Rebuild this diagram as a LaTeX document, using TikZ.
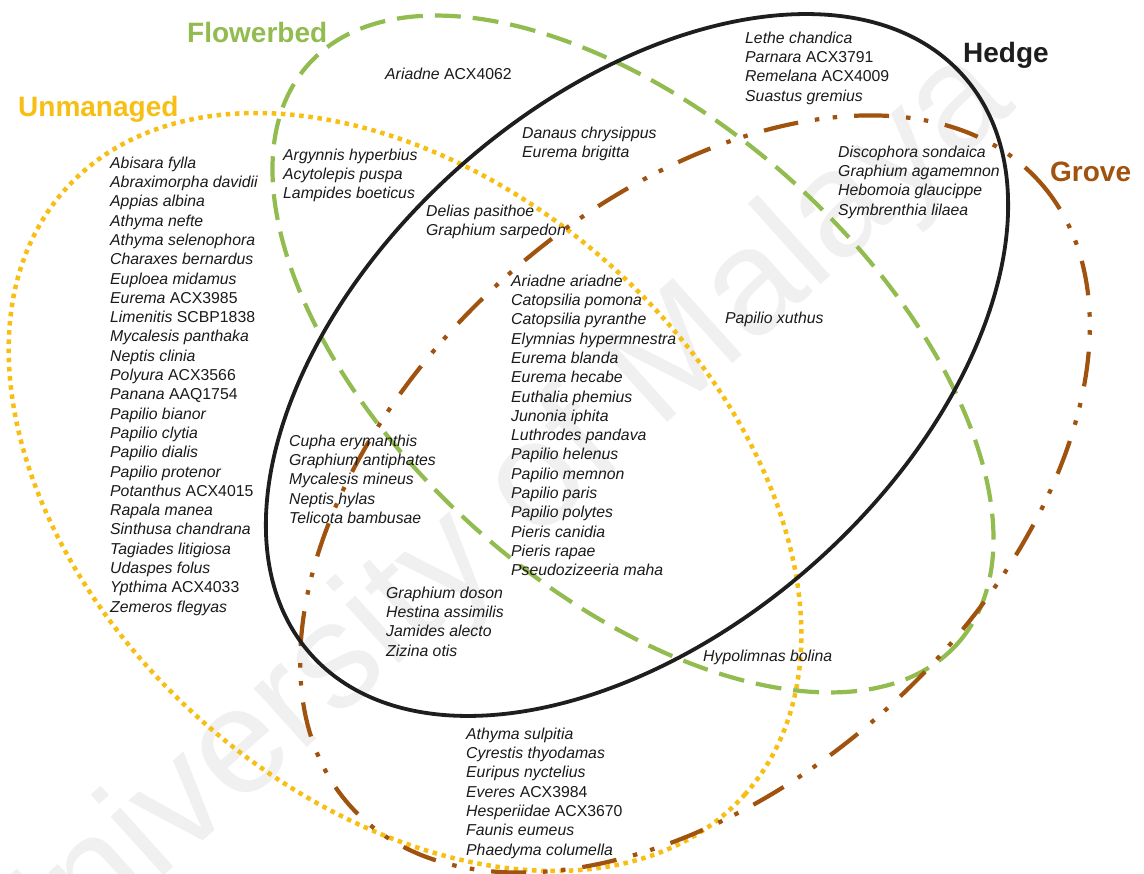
\documentclass[tikz,border=0pt]{standalone}
\usepackage{fontspec}
\setmainfont{Liberation Sans}
\definecolor{flowc}{HTML}{92BB50}
\definecolor{unmc}{HTML}{F7BF14}
\definecolor{grovec}{HTML}{A0520F}
\definecolor{hedgec}{HTML}{1E1E1E}
\definecolor{txt}{HTML}{1A1A1A}
\newcommand{\cd}[1]{\textup{#1}}
\newcommand{\fs}{\rule{0pt}{12pt}}
\begin{document}
\begin{tikzpicture}[x=1pt,y=-1pt,
 spp/.style={font=\fontsize{15.8}{19.3}\selectfont\itshape, text=txt, align=left, inner sep=0pt, anchor=north west},
 sp1/.style={font=\fontsize{15.8}{19.3}\selectfont\itshape, text=txt, inner sep=0pt, anchor=base west},
 setlbl/.style={font=\fontsize{28}{32}\selectfont\bfseries, inner sep=0pt, anchor=base west},
 hedgeln/.style={draw=hedgec, line width=3.8pt},
 flowln/.style={draw=flowc, line width=4.2pt, dash pattern=on 26pt off 12pt},
 unmln/.style={draw=unmc, line width=4.5pt, dash pattern=on 4.5pt off 4.7pt},
 groveln/.style={draw=grovec, line width=4.2pt, dash pattern=on 35pt off 17pt on 4.5pt off 13.5pt on 4.5pt off 17pt},
 wmark/.style={text=black!6, font=\fontsize{150}{150}\selectfont, inner sep=0pt}
]
\useasboundingbox (0,0) rectangle (1144,874);
\fill[white] (0,0) rectangle (1144,874);
% watermark
\node[wmark, rotate=42] (wm) at (490,530) {University of Malaya};
% sets
\draw[unmln, rotate around={-41.6:(405,492)}] (405,492) ellipse [x radius=455, y radius=306];
\draw[flowln, rotate around={-41.7:(633,354)}] (633,354) ellipse [x radius=435, y radius=235];
\draw[groveln, rotate around={42.3:(695,494)}] (695,494) ellipse [x radius=465, y radius=288];
\draw[hedgeln, rotate around={41.5:(637,365)}] (637,365) ellipse [x radius=436, y radius=266];
% set labels
\node[setlbl, text=flowc] (lflow) at (187,43) {Flowerbed};
\node[setlbl, text=unmc] (lunm) at (18,117) {Unmanaged};
\node[setlbl, text=hedgec] (lhedge) at (963,63) {Hedge};
\node[setlbl, text=grovec] (lgrove) at (1050,182) {Grove};
% species
\node[spp] (unmonly) at (110,156) {\fs Abisara fylla\\Abraximorpha davidii\\Appias albina\\Athyma nefte\\Athyma selenophora\\Charaxes bernardus\\Euploea midamus\\Eurema \cd{ACX3985}\\Limenitis \cd{SCBP1838}\\Mycalesis panthaka\\Neptis clinia\\Polyura \cd{ACX3566}\\Panana \cd{AAQ1754}\\Papilio bianor\\Papilio clytia\\Papilio dialis\\Papilio protenor\\Potanthus \cd{ACX4015}\\Rapala manea\\Sinthusa chandrana\\Tagiades litigiosa\\Udaspes folus\\Ypthima \cd{ACX4033}\\Zemeros flegyas};
\node[spp] (unmflow) at (283,148) {\fs Argynnis hyperbius\\Acytolepis puspa\\Lampides boeticus};
\node[sp1] (flowonly) at (385,80) {Ariadne \cd{ACX4062}};
\node[spp] (hedgeonly) at (745,31) {\fs Lethe chandica\\Parnara \cd{ACX3791}\\Remelana \cd{ACX4009}\\Suastus gremius};
\node[spp] (flowhedge) at (522,126) {\fs Danaus chrysippus\\Eurema brigitta};
\node[spp] (ufh) at (426,204) {\fs Delias pasithoe\\Graphium sarpedon};
\node[spp] (hedgegrove) at (838,145) {\fs Discophora sondaica\\Graphium agamemnon\\Hebomoia glaucippe\\Symbrenthia lilaea};
\node[spp] (allfour) at (511,274) {\fs Ariadne ariadne\\Catopsilia pomona\\Catopsilia pyranthe\\Elymnias hypermnestra\\Eurema blanda\\Eurema hecabe\\Euthalia phemius\\Junonia iphita\\Luthrodes pandava\\Papilio helenus\\Papilio memnon\\Papilio paris\\Papilio polytes\\Pieris canidia\\Pieris rapae\\Pseudozizeeria maha};
\node[sp1] (fhg) at (725,324) {Papilio xuthus};
\node[spp] (ufhg) at (289,434) {\fs Cupha erymanthis\\Graphium antiphates\\Mycalesis mineus\\Neptis hylas\\Telicota bambusae};
\node[spp] (uhg) at (386,586) {\fs Graphium doson\\Hestina assimilis\\Jamides alecto\\Zizina otis};
\node[sp1] (ufg) at (703,661) {Hypolimnas bolina};
\node[spp] (ug) at (466,727) {\fs Athyma sulpitia\\Cyrestis thyodamas\\Euripus nyctelius\\Everes \cd{ACX3984}\\Hesperiidae \cd{ACX3670}\\Faunis eumeus\\Phaedyma columella};
\end{tikzpicture}
\end{document}
